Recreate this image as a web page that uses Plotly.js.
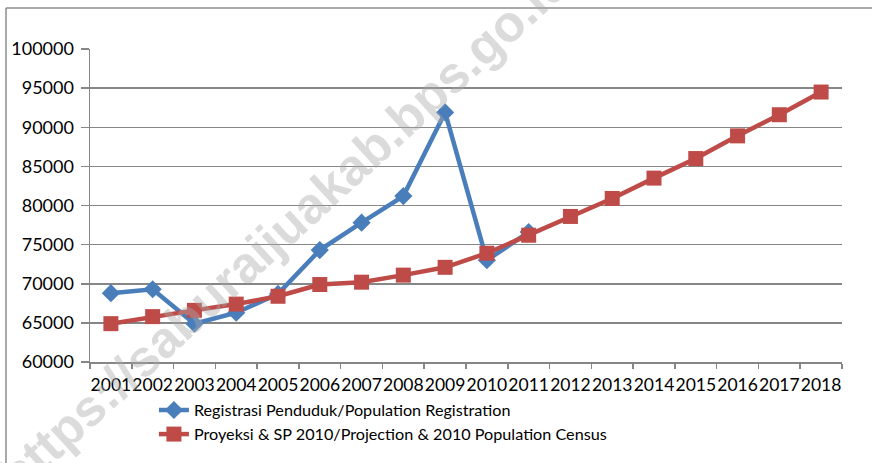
<!DOCTYPE html>
<html>
<head>
<meta charset="utf-8">
<script src="https://cdn.plot.ly/plotly-3.0.1.min.js"></script>
<style>html,body{margin:0;padding:0;background:#fff;}#chart{width:872px;height:463px;}</style>
</head>
<body>
<div id="chart"></div>
<script>
const years = ["2001","2002","2003","2004","2005","2006","2007","2008","2009","2010","2011","2012","2013","2014","2015","2016","2017","2018"];
const registrationYears = years.slice(0, 11);
const registration = [68800, 69300, 64900, 66300, 68700, 74300, 77800, 81200, 91900, 73000, 76600];
const projection = [64900, 65800, 66600, 67400, 68400, 69900, 70200, 71100, 72100, 73900, 76200, 78600, 80900, 83500, 86000, 88900, 91600, 94500];
const seriesNames = ["Registrasi Penduduk/Population Registration", "Proyeksi & SP 2010/Projection & 2010 Population Census"];
const watermark = "https://saburaijuakab.bps.go.id";

const font = "Lato, 'Open Sans', sans-serif";
const data = [
  {type:"scatter", mode:"lines+markers", name:seriesNames[0], x:registrationYears, y:registration,
   line:{color:"#4a7ebb", width:4.5}, marker:{symbol:"diamond", size:14, color:"#4a7ebb"}},
  {type:"scatter", mode:"lines+markers", name:seriesNames[1], x:years, y:projection,
   line:{color:"#be4b48", width:4.5}, marker:{symbol:"square", size:15, color:"#be4b48"}}
];
const layout = {
  width:872, height:463,
  margin:{l:90, r:30, t:49, b:101, autoexpand:false},
  paper_bgcolor:"#fff", plot_bgcolor:"#fff",
  font:{family:font, color:"#000", size:17.5},
  showlegend:true,
  legend:{x:0.085, y:-0.099, xanchor:"left", yanchor:"top", orientation:"v",
          font:{family:font, size:16.2, color:"#000"}, tracegroupgap:0, bgcolor:"rgba(0,0,0,0)"},
  xaxis:{type:"category", tickmode:"array", tickvals:years, ticktext:years, tickson:"boundaries",
         tickangle:0, ticks:"outside", ticklen:5, tickcolor:"#868686", tickwidth:1.5,
         showline:true, linecolor:"#868686", linewidth:1.5, showgrid:false, automargin:false,
         tickfont:{family:font, size:17.5, color:"#000"}, ticklabelstandoff:6, range:[-0.5,17.5]},
  yaxis:{range:[60000,100000], dtick:5000, tickformat:"d", ticks:"outside", ticklen:8,
         tickcolor:"#868686", tickwidth:1.5, showline:true, linecolor:"#868686", linewidth:1.5,
         showgrid:true, gridcolor:"#868686", gridwidth:1.5, zeroline:false, automargin:false,
         tickfont:{family:font, size:18, color:"#000"}, ticklabelstandoff:3},
  shapes:[
    {type:"line", xref:"paper", yref:"paper", x0:-0.1117, x1:1.2, y0:1.131, y1:1.131, line:{color:"#8c8c8c", width:1.5}},
    {type:"line", xref:"paper", yref:"paper", x0:-0.1117, x1:-0.1117, y0:1.131, y1:-0.5, line:{color:"#8c8c8c", width:1.5}}
  ],
  annotations:[
    {text:watermark, xref:"paper", yref:"paper", x:0.258, y:0.428, xanchor:"center", yanchor:"middle",
     showarrow:false, textangle:-42.5,
     font:{family:"'Liberation Sans', Arial, sans-serif", size:51, color:"rgba(170,170,170,0.42)", weight:"bold"}}
  ]
};
Plotly.newPlot("chart", data, layout, {displayModeBar:false, staticPlot:true});
</script>
</body>
</html>
